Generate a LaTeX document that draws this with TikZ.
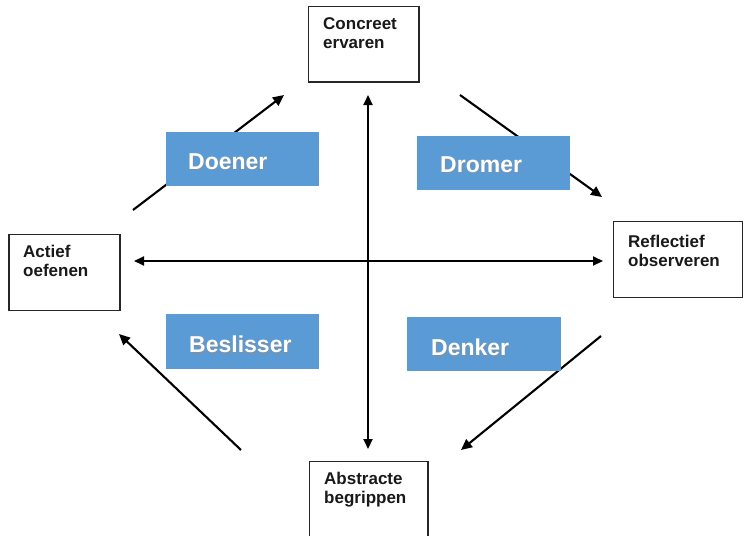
\documentclass[tikz,border=0pt]{standalone}
\usepackage{fontspec}
\setmainfont{Liberation Sans}
\usetikzlibrary{arrows.meta}
\definecolor{styleblue}{RGB}{91,155,213}
\begin{document}
\begin{tikzpicture}[x=1pt,y=-1pt,
  phasebox/.style={draw=black!85,line width=1.3pt,fill=white},
  phasetext/.style={anchor=north west,inner sep=0pt,align=left,font=\fontsize{17}{19}\selectfont\bfseries,text=black!90},
  stylebox/.style={fill=styleblue,draw=none},
  styletext/.style={anchor=north west,inner sep=0pt,font=\fontsize{23}{26}\selectfont\bfseries,text=white},
  shadowtext/.style={anchor=north west,inner sep=0pt,font=\fontsize{23}{26}\selectfont\bfseries,text=black!45,opacity=0.6},
  cyclearrow/.style={line width=2.1pt,-{Triangle[length=11pt,width=10pt]}},
  axisarrow/.style={line width=2pt,{Triangle[length=10pt,width=9pt]}-{Triangle[length=10pt,width=9pt]}}]
\useasboundingbox (0,0) rectangle (743,535);

% axes
\coordinate (vt) at (368,95);
\coordinate (vb) at (368,449);
\coordinate (hl) at (134,261);
\coordinate (hr) at (603,261);
\draw[axisarrow] (vt) -- (vb);
\draw[axisarrow] (hl) -- (hr);

% cycle arrows
\coordinate (a1s) at (133,210);
\coordinate (a1e) at (284,95);
\coordinate (a2s) at (460,95);
\coordinate (a2e) at (602,197);
\coordinate (a3s) at (601,336);
\coordinate (a3e) at (461,450);
\coordinate (a4s) at (241,450);
\coordinate (a4e) at (119,334);
\draw[cyclearrow] (a1s) -- (a1e);
\draw[cyclearrow] (a2s) -- (a2e);
\draw[cyclearrow] (a3s) -- (a3e);
\draw[cyclearrow] (a4s) -- (a4e);

% phase boxes
\path[phasebox] (308.5,6.5) rectangle (419,82) node[pos=0.5,inner sep=0pt] (concreet) {};
\path[phasebox] (9,234.5) rectangle (120,310.5) node[pos=0.5,inner sep=0pt] (actief) {};
\path[phasebox] (613.5,221.5) rectangle (742.5,297.5) node[pos=0.5,inner sep=0pt] (reflectief) {};
\path[phasebox] (309.5,461.5) rectangle (428,540) node[pos=0.5,inner sep=0pt] (abstract) {};
\node[phasetext] (concreett) at (323,17) {Concreet\\ervaren};
\node[phasetext] (actieft) at (23,245) {Actief\\oefenen};
\node[phasetext] (reflectieft) at (628,235) {Reflectief\\observeren};
\node[phasetext] (abstractt) at (324,472) {Abstracte\\begrippen};

% style boxes
\path[stylebox] (166,132) rectangle (319,186) node[pos=0.5,inner sep=0pt] (doener) {};
\path[stylebox] (417,136) rectangle (570,190) node[pos=0.5,inner sep=0pt] (dromer) {};
\path[stylebox] (166,314) rectangle (319,369) node[pos=0.5,inner sep=0pt] (beslisser) {};
\path[stylebox] (407,317) rectangle (561,371) node[pos=0.5,inner sep=0pt] (denker) {};
\node[shadowtext] (doeners) at (189.2,154.2) {Doener};
\node[shadowtext] (dromers) at (441.2,157.2) {Dromer};
\node[shadowtext] (beslissers) at (190.2,337.2) {Beslisser};
\node[shadowtext] (denkers) at (432.2,340.2) {Denker};
\node[styletext] (doenert) at (188,153) {Doener};
\node[styletext] (dromert) at (440,156) {Dromer};
\node[styletext] (beslissert) at (189,336) {Beslisser};
\node[styletext] (denkert) at (431,339) {Denker};
\end{tikzpicture}
\end{document}
